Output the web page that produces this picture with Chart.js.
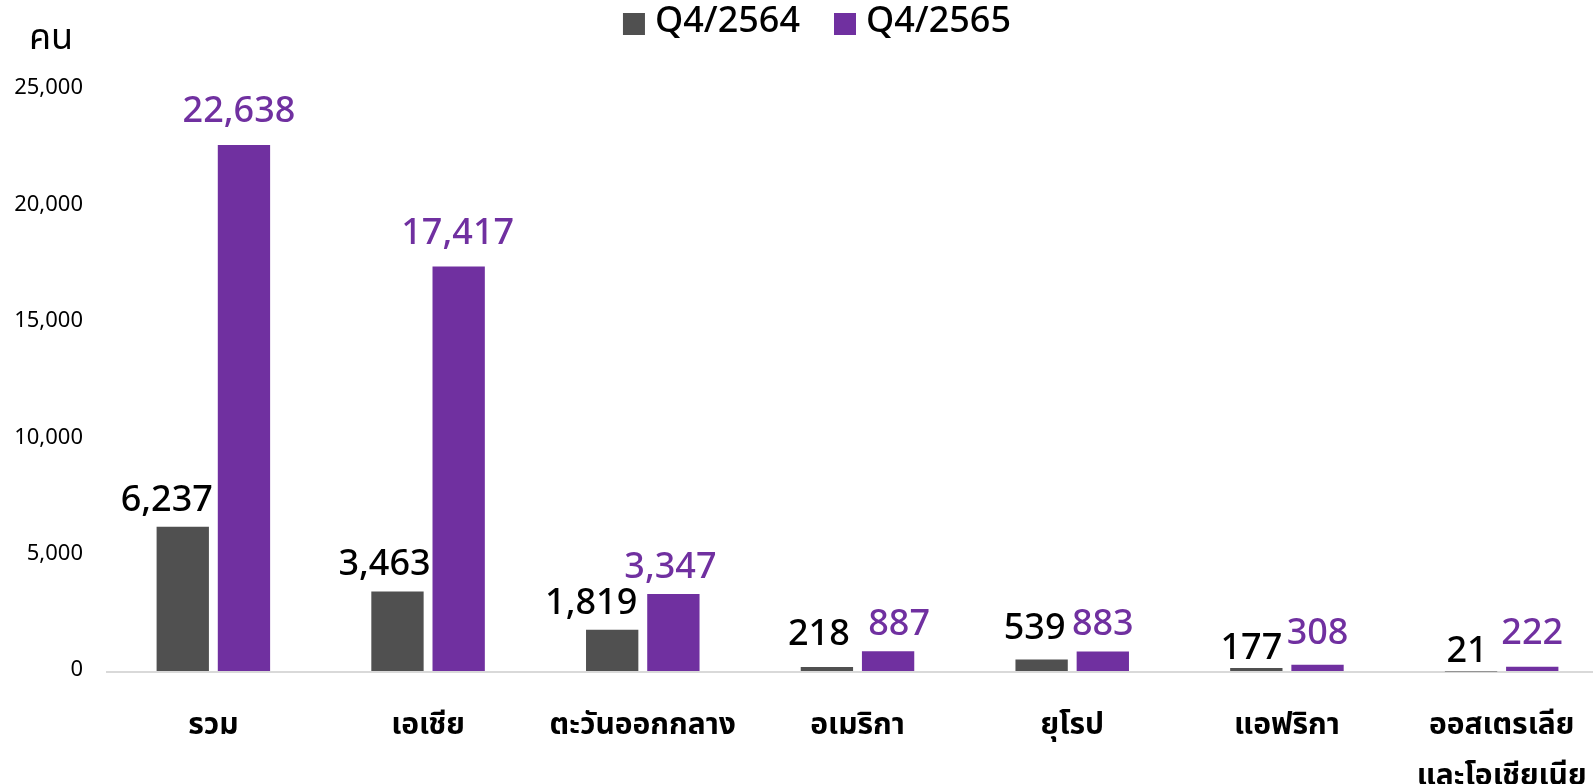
<!DOCTYPE html>
<html lang="th">
<head>
<meta charset="utf-8">
<script src="https://cdn.jsdelivr.net/npm/chart.js@4.4.1/dist/chart.umd.min.js"></script>
<style>
  html, body { margin: 0; padding: 0; background: #fff; overflow: hidden; }
  #wrap { width: 1593px; height: 784px; overflow: hidden; }
</style>
</head>
<body>
<div id="wrap"><canvas id="chart" width="1609" height="784"></canvas></div>
<script>
// Data
const regions = ['รวม', 'เอเชีย', 'ตะวันออกกลาง', 'อเมริกา', 'ยุโรป', 'แอฟริกา', ['ออสเตรเลีย', 'และโอเชียเนีย']];
const seriesNames = ['Q4/2564', 'Q4/2565'];
const q4y2564 = [6237, 3463, 1819, 218, 539, 177, 21];
const q4y2565 = [22638, 17417, 3347, 887, 883, 308, 222];
const yTicks = [0, 5000, 10000, 15000, 20000, 25000];

const FONT = '"Noto Sans Thai", "Noto Sans", "DejaVu Sans", sans-serif';
const GREY = '#505050';
const PURPLE = '#7030A0';

// small hand nudges of the value labels, as placed in the original
const labelNudgeX = [
  [-16, -13, -21, -8, -7, -5, -4],
  [-5, -1, -3, 11, 0, 0, 0],
];
const labelNudgeY = [
  [0, 0, 0, -6, -4, 7, 6],
  [-7, -7, 0, 0, 0, -5, -7],
];

const fmt = (v) => v.toLocaleString('en-US');

const valueLabels = {
  id: 'valueLabels',
  afterDatasetsDraw(chart) {
    const { ctx } = chart;
    ctx.save();
    ctx.font = `500 36px ${FONT}`;
    ctx.textAlign = 'center';
    ctx.textBaseline = 'alphabetic';
    chart.data.datasets.forEach((ds, di) => {
      ctx.fillStyle = di === 0 ? '#000' : PURPLE;
      chart.getDatasetMeta(di).data.forEach((bar, i) => {
        ctx.fillText(fmt(ds.data[i]), bar.x + labelNudgeX[di][i], bar.y - 16 + labelNudgeY[di][i]);
      });
    });
    ctx.restore();
  },
};

const topDecor = {
  id: 'topDecor',
  afterDraw(chart) {
    const { ctx } = chart;
    ctx.save();
    // unit label
    ctx.font = `36px ${FONT}`;
    ctx.fillStyle = '#000';
    ctx.textAlign = 'left';
    ctx.textBaseline = 'middle';
    ctx.fillText('คน', 29, 42);

    // legend
    ctx.font = `500 36px ${FONT}`;
    const box = 22, gapBox = 10, gapItem = 34;
    const widths = chart.data.datasets.map((ds) => box + gapBox + ctx.measureText(ds.label).width);
    const total = widths.reduce((a, b) => a + b, 0) + gapItem * (widths.length - 1);
    let x = 817 - total / 2;
    const cy = 24;
    chart.data.datasets.forEach((ds, i) => {
      ctx.fillStyle = ds.backgroundColor;
      ctx.fillRect(x, cy - box / 2, box, box);
      ctx.fillStyle = '#000';
      ctx.fillText(ds.label, x + box + gapBox, cy + 1);
      x += widths[i] + gapItem;
    });
    ctx.restore();
  },
};

new Chart(document.getElementById('chart'), {
  type: 'bar',
  data: {
    labels: regions,
    datasets: [
      { label: seriesNames[0], data: q4y2564, backgroundColor: GREY },
      { label: seriesNames[1], data: q4y2565, backgroundColor: PURPLE },
    ],
  },
  options: {
    responsive: false,
    animation: false,
    events: [],
    layout: { padding: { top: 90, left: 0, right: 0, bottom: 0 } },
    datasets: { bar: { categoryPercentage: 0.57, barPercentage: 0.855 } },
    plugins: { legend: { display: false }, tooltip: { enabled: false } },
    scales: {
      x: {
        grid: { display: false },
        border: { display: false },
        afterFit(axis) { axis.height = 112; },
        ticks: {
          color: '#000',
          padding: 22,
          maxRotation: 0,
          autoSkip: false,
          font: { family: FONT, size: 30, weight: 'bold', lineHeight: 1.7 },
        },
      },
      y: {
        min: 0,
        max: 25000,
        afterFit(axis) { axis.width = 106; },
        afterBuildTicks(axis) { axis.ticks = yTicks.map((v) => ({ value: v })); },
        border: { display: false },
        grid: {
          drawTicks: false,
          lineWidth: 2,
          color: (c) => (c.tick && c.tick.value === 0 ? '#d9d9d9' : 'transparent'),
        },
        ticks: {
          color: '#000',
          padding: 23,
          font: { family: FONT, size: 22 },
          callback: (v) => fmt(v),
        },
      },
    },
  },
  plugins: [valueLabels, topDecor],
});
</script>
</body>
</html>
